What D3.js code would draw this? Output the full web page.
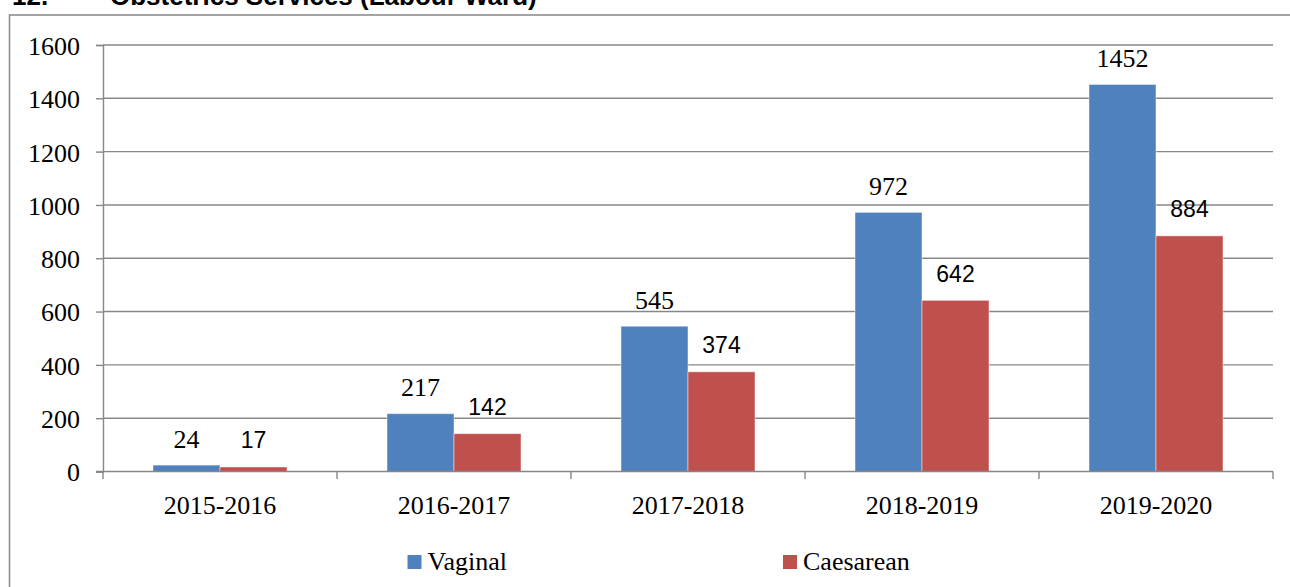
<!DOCTYPE html>
<html>
<head>
<meta charset="utf-8">
<script src="https://cdn.jsdelivr.net/npm/d3@7"></script>
<style>
  html, body { margin: 0; padding: 0; background: #fff; }
  svg { display: block; }
</style>
</head>
<body>
<svg id="chart" width="1290" height="587"></svg>
<script>
// Labour ward deliveries by financial year
const years = ["2015-2016", "2016-2017", "2017-2018", "2018-2019", "2019-2020"];
const vaginal = [24, 217, 545, 972, 1452];
const caesarean = [17, 142, 374, 642, 884];
const seriesNames = ["Vaginal", "Caesarean"];
const yTicks = [0, 200, 400, 600, 800, 1000, 1200, 1400, 1600];

const colors = { Vaginal: "#4F81BD", Caesarean: "#C0504D" };
const gridColor = "#878787";
const serif = "'Liberation Serif', 'Times New Roman', serif";
const sans = "'Liberation Sans', Arial, sans-serif";

const svg = d3.select("#chart");

// Section heading (runs off the top edge of the page)
svg.append("text")
  .attr("x", 12).attr("y", 5)
  .attr("font-family", sans).attr("font-weight", "bold").attr("font-size", 26)
  .attr("fill", "#000")
  .text("12.");
svg.append("text")
  .attr("x", 110).attr("y", 5)
  .attr("font-family", sans).attr("font-weight", "bold").attr("font-size", 26)
  .attr("fill", "#000")
  .text("Obstetrics Services (Labour Ward)");

// Chart frame
svg.append("rect")
  .attr("x", 9.5).attr("y", 15)
  .attr("width", 1300).attr("height", 600)
  .attr("fill", "none").attr("stroke", gridColor).attr("stroke-width", 1.5);

const plot = { left: 103, right: 1273, top: 45, bottom: 471.5 };

const x = d3.scaleBand().domain(years).range([plot.left, plot.right]).padding(0);
const y = d3.scaleLinear().domain([0, 1600]).range([plot.bottom, plot.top]);
const barW = x.bandwidth() * 134 / 234 / 2;

// Horizontal gridlines
svg.append("g")
  .selectAll("line")
  .data(yTicks.filter(d => d > 0))
  .join("line")
  .attr("x1", plot.left).attr("x2", plot.right)
  .attr("y1", d => y(d)).attr("y2", d => y(d))
  .attr("stroke", gridColor).attr("stroke-width", 1.4);

// Y axis
const yAxis = svg.append("g")
  .attr("transform", `translate(${plot.left},0)`)
  .call(d3.axisLeft(y).tickValues(yTicks).tickSize(7).tickPadding(16).tickFormat(d3.format("d")));
yAxis.select(".domain").attr("stroke", gridColor).attr("stroke-width", 1.4);
yAxis.selectAll(".tick line").attr("stroke", gridColor).attr("stroke-width", 1.4);
yAxis.selectAll(".tick text")
  .attr("font-family", serif).attr("font-size", 26).attr("fill", "#000")
  .attr("dy", "0.36em");

// Bars
const groups = svg.append("g")
  .selectAll("g")
  .data(years.map((yr, i) => ({ yr, values: [vaginal[i], caesarean[i]] })))
  .join("g")
  .attr("transform", d => `translate(${x(d.yr) + x.bandwidth() / 2},0)`);

groups.selectAll("rect")
  .data(d => d.values.map((v, j) => ({ v, name: seriesNames[j], j })))
  .join("rect")
  .attr("x", d => d.j === 0 ? -barW : 0)
  .attr("width", barW)
  .attr("y", d => y(d.v))
  .attr("height", d => y(0) - y(d.v))
  .attr("fill", d => colors[d.name])
  .attr("stroke", "rgba(255,255,255,0.45)").attr("stroke-width", 1);

// Value labels
groups.selectAll("text.val")
  .data(d => d.values.map((v, j) => ({ v, j })))
  .join("text")
  .attr("class", "val")
  .attr("x", d => d.j === 0 ? -barW / 2 : barW / 2)
  .attr("y", d => y(d.v) - (d.j === 0 ? 17.5 : 18.5))
  .attr("text-anchor", "middle")
  .attr("font-family", d => d.j === 0 ? serif : sans)
  .attr("font-size", d => d.j === 0 ? 26 : 23)
  .attr("fill", "#000")
  .text(d => d.v);

// X axis
const xAxis = svg.append("g")
  .attr("transform", `translate(0,${plot.bottom})`)
  .call(d3.axisBottom(x).tickSize(0).tickPadding(24));
xAxis.select(".domain").remove();
xAxis.selectAll(".tick text")
  .attr("font-family", serif).attr("font-size", 26).attr("fill", "#000")
  .attr("dy", "0.71em");
svg.append("line")
  .attr("x1", plot.left - 7).attr("x2", plot.right)
  .attr("y1", plot.bottom).attr("y2", plot.bottom)
  .attr("stroke", gridColor).attr("stroke-width", 1.4);
// Category boundary ticks
svg.append("g")
  .selectAll("line")
  .data(years.map(yr => x(yr)).concat([plot.right]))
  .join("line")
  .attr("x1", d => d).attr("x2", d => d)
  .attr("y1", plot.bottom).attr("y2", plot.bottom + 7.5)
  .attr("stroke", gridColor).attr("stroke-width", 1.4);

// Legend
const legendX = [407.5, 783];
const legend = svg.append("g")
  .selectAll("g")
  .data(seriesNames)
  .join("g")
  .attr("transform", (d, i) => `translate(${legendX[i]},555)`);
legend.append("rect")
  .attr("width", 14).attr("height", 14)
  .attr("fill", d => colors[d]);
legend.append("text")
  .attr("x", 20).attr("y", 14.5)
  .attr("font-family", serif).attr("font-size", 26).attr("fill", "#000")
  .text(d => d);
</script>
</body>
</html>
